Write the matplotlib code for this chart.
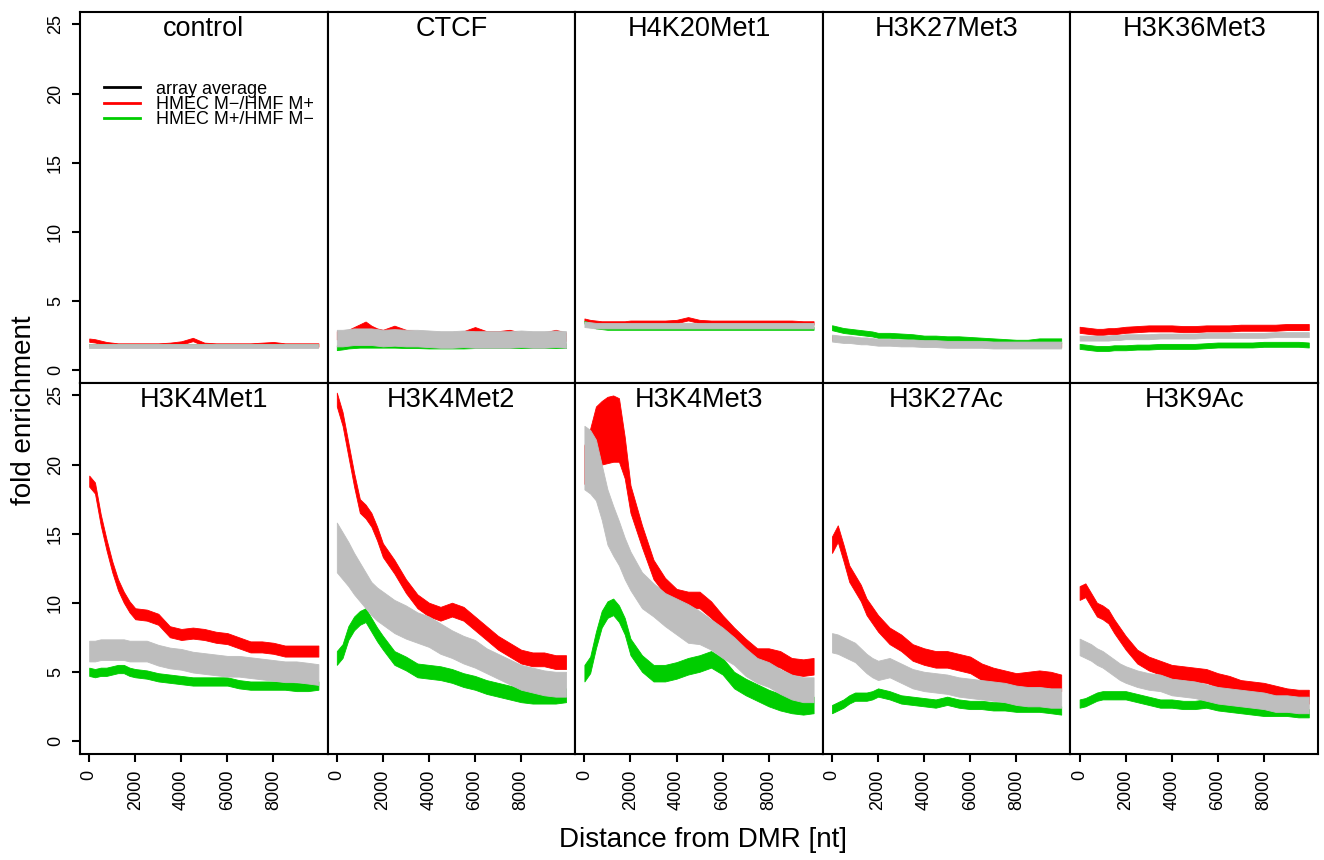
import numpy as np
import matplotlib
matplotlib.use('Agg')
import matplotlib.pyplot as plt

plt.rcParams['font.family'] = ['Liberation Sans', 'DejaVu Sans']
plt.rcParams['xtick.labelsize'] = 13
plt.rcParams['ytick.labelsize'] = 13
plt.rcParams['xtick.major.size'] = 6
plt.rcParams['ytick.major.size'] = 6
plt.rcParams['xtick.major.width'] = 1.5
plt.rcParams['ytick.major.width'] = 1.5
plt.rcParams['xtick.major.pad'] = 5.5
plt.rcParams['ytick.major.pad'] = 5.5

dist = [0, 250, 500, 750, 1000, 1250, 1500, 1750, 2000, 2500, 3000, 3500, 4000,
        4500, 5000, 5500, 6000, 6500, 7000, 7500, 8000, 8500, 9000, 9500, 9950]

panels = ['control', 'CTCF', 'H4K20Met1', 'H3K27Met3', 'H3K36Met3',
          'H3K4Met1', 'H3K4Met2', 'H3K4Met3', 'H3K27Ac', 'H3K9Ac']

# HMEC M-/HMF M+ (red)
red = [
    [2.15, 2.1, 2.0, 1.9, 1.85, 1.8, 1.8, 1.8, 1.8, 1.8, 1.8, 1.85, 1.95, 2.2, 1.85, 1.8, 1.8, 1.8, 1.8, 1.85, 1.9, 1.8, 1.8, 1.8, 1.8],
    [2.5, 2.5, 2.6, 2.8, 3.0, 3.2, 2.9, 2.7, 2.6, 2.9, 2.6, 2.5, 2.4, 2.3, 2.3, 2.5, 2.8, 2.5, 2.5, 2.6, 2.4, 2.4, 2.4, 2.6, 2.4],
    [3.6, 3.5, 3.45, 3.4, 3.4, 3.4, 3.4, 3.4, 3.45, 3.45, 3.45, 3.45, 3.5, 3.7, 3.5, 3.45, 3.45, 3.45, 3.45, 3.45, 3.45, 3.45, 3.45, 3.4, 3.4],
    [2.3, 2.25, 2.2, 2.2, 2.15, 2.1, 2.1, 2.05, 2.0, 2.0, 1.95, 1.95, 1.9, 1.9, 1.85, 1.85, 1.85, 1.85, 1.8, 1.8, 1.8, 1.8, 1.8, 1.8, 1.8],
    [2.9, 2.85, 2.8, 2.75, 2.75, 2.8, 2.8, 2.85, 2.9, 2.95, 3.0, 3.0, 3.0, 2.95, 2.95, 3.0, 3.0, 3.0, 3.05, 3.05, 3.05, 3.05, 3.1, 3.1, 3.1],
    [18.8, 18.3, 16.0, 14.2, 12.6, 11.3, 10.4, 9.7, 9.2, 9.1, 8.8, 7.9, 7.7, 7.8, 7.7, 7.5, 7.4, 7.1, 6.8, 6.8, 6.7, 6.5, 6.5, 6.5, 6.5],
    [24.7, 23.3, 21.1, 18.9, 17.0, 16.6, 16.0, 15.0, 13.8, 12.6, 11.2, 10.1, 9.5, 9.2, 9.5, 9.2, 8.5, 7.8, 7.1, 6.6, 6.1, 5.9, 5.9, 5.7, 5.7],
    [20.0, 20.8, 22.0, 22.3, 22.5, 22.6, 22.5, 20.5, 17.5, 14.8, 12.4, 11.2, 10.4, 10.2, 10.2, 9.5, 8.5, 7.6, 6.8, 6.1, 6.1, 5.9, 5.4, 5.3, 5.4],
    [14.2, 15.0, 13.6, 12.1, 11.4, 10.7, 9.7, 9.1, 8.5, 7.6, 7.1, 6.4, 6.1, 5.9, 5.9, 5.7, 5.5, 5.0, 4.7, 4.5, 4.3, 4.4, 4.5, 4.4, 4.2],
    [10.7, 10.9, 10.2, 9.5, 9.3, 9.0, 8.3, 7.7, 7.1, 6.1, 5.6, 5.3, 5.0, 4.9, 4.8, 4.7, 4.4, 4.2, 3.9, 3.8, 3.7, 3.5, 3.3, 3.2, 3.2],
]

# HMEC M+/HMF M- (green)
green = [
    [1.8, 1.8, 1.8, 1.8, 1.8, 1.8, 1.8, 1.8, 1.8, 1.8, 1.8, 1.8, 1.8, 1.8, 1.8, 1.8, 1.8, 1.8, 1.8, 1.8, 1.8, 1.8, 1.8, 1.8, 1.8],
    [1.6, 1.65, 1.72, 1.75, 1.78, 1.78, 1.78, 1.78, 1.78, 1.78, 1.75, 1.75, 1.72, 1.72, 1.72, 1.72, 1.75, 1.75, 1.75, 1.75, 1.75, 1.75, 1.75, 1.75, 1.75],
    [3.45, 3.3, 3.1, 3.05, 3.0, 3.0, 3.0, 3.0, 3.0, 3.0, 3.0, 3.0, 3.0, 3.0, 3.0, 3.0, 3.0, 3.0, 3.0, 3.0, 3.0, 3.0, 3.0, 3.0, 3.0],
    [3.05, 2.95, 2.85, 2.8, 2.75, 2.7, 2.65, 2.6, 2.5, 2.5, 2.45, 2.4, 2.3, 2.3, 2.25, 2.25, 2.2, 2.15, 2.1, 2.05, 2.0, 2.0, 2.1, 2.1, 2.1],
    [1.7, 1.65, 1.6, 1.55, 1.55, 1.55, 1.6, 1.6, 1.6, 1.65, 1.65, 1.7, 1.7, 1.7, 1.7, 1.75, 1.8, 1.8, 1.8, 1.8, 1.85, 1.85, 1.85, 1.85, 1.8],
    [5.0, 4.9, 5.0, 5.0, 5.1, 5.2, 5.2, 5.0, 4.9, 4.8, 4.6, 4.5, 4.4, 4.3, 4.3, 4.3, 4.3, 4.1, 4.0, 4.0, 4.0, 4.0, 3.9, 3.9, 4.0],
    [6.0, 6.5, 7.8, 8.5, 8.9, 9.1, 8.4, 7.7, 7.1, 6.0, 5.6, 5.1, 5.0, 4.9, 4.7, 4.4, 4.2, 3.9, 3.7, 3.5, 3.3, 3.2, 3.2, 3.2, 3.3],
    [4.9, 5.5, 7.3, 8.8, 9.5, 9.7, 9.2, 8.3, 6.8, 5.6, 4.9, 4.9, 5.1, 5.4, 5.6, 5.9, 5.4, 4.4, 3.9, 3.5, 3.1, 2.8, 2.6, 2.5, 2.6],
    [2.3, 2.5, 2.7, 3.0, 3.2, 3.2, 3.2, 3.3, 3.5, 3.3, 3.0, 2.9, 2.8, 2.7, 2.9, 2.7, 2.6, 2.6, 2.5, 2.5, 2.4, 2.4, 2.4, 2.3, 2.2],
    [2.7, 2.8, 3.0, 3.2, 3.3, 3.3, 3.3, 3.3, 3.3, 3.1, 2.9, 2.7, 2.7, 2.6, 2.6, 2.7, 2.5, 2.4, 2.3, 2.2, 2.1, 2.1, 2.1, 2.0, 2.0],
]

# array average (grey)
grey = [
    [1.72, 1.72, 1.72, 1.72, 1.72, 1.72, 1.72, 1.72, 1.72, 1.72, 1.72, 1.72, 1.72, 1.72, 1.72, 1.72, 1.72, 1.72, 1.72, 1.72, 1.72, 1.72, 1.72, 1.72, 1.72],
    [2.3, 2.3, 2.35, 2.4, 2.4, 2.4, 2.4, 2.35, 2.3, 2.35, 2.3, 2.3, 2.25, 2.2, 2.2, 2.25, 2.2, 2.2, 2.2, 2.2, 2.25, 2.2, 2.2, 2.25, 2.2],
    [3.3, 3.25, 3.2, 3.2, 3.2, 3.2, 3.2, 3.2, 3.2, 3.2, 3.2, 3.2, 3.2, 3.2, 3.2, 3.2, 3.2, 3.2, 3.2, 3.2, 3.2, 3.2, 3.2, 3.2, 3.2],
    [2.3, 2.25, 2.2, 2.2, 2.15, 2.1, 2.1, 2.05, 2.0, 2.0, 1.95, 1.95, 1.9, 1.9, 1.85, 1.85, 1.85, 1.85, 1.8, 1.8, 1.8, 1.8, 1.8, 1.8, 1.8],
    [2.3, 2.3, 2.3, 2.3, 2.3, 2.3, 2.35, 2.35, 2.4, 2.4, 2.4, 2.45, 2.45, 2.45, 2.45, 2.5, 2.5, 2.5, 2.5, 2.5, 2.5, 2.55, 2.55, 2.55, 2.55],
    [6.5, 6.5, 6.6, 6.6, 6.6, 6.6, 6.6, 6.5, 6.5, 6.5, 6.2, 6.0, 5.9, 5.7, 5.6, 5.5, 5.4, 5.4, 5.3, 5.2, 5.1, 5.0, 5.0, 4.9, 4.8],
    [14.0, 13.4, 12.8, 12.1, 11.5, 10.9, 10.3, 9.9, 9.6, 9.0, 8.6, 8.2, 7.9, 7.4, 7.0, 6.6, 6.3, 5.8, 5.4, 5.0, 4.6, 4.4, 4.2, 4.1, 4.1],
    [20.5, 20.2, 19.6, 18.0, 16.2, 15.2, 14.3, 13.2, 12.3, 10.9, 10.2, 9.5, 9.0, 8.5, 8.2, 7.7, 7.1, 6.5, 5.7, 5.1, 4.8, 4.3, 3.9, 3.7, 3.7],
    [7.1, 7.0, 6.8, 6.6, 6.4, 6.0, 5.6, 5.3, 5.1, 5.3, 4.9, 4.5, 4.3, 4.2, 4.1, 3.9, 3.8, 3.7, 3.6, 3.5, 3.3, 3.2, 3.2, 3.1, 3.1],
    [6.8, 6.6, 6.4, 6.1, 5.9, 5.6, 5.3, 5.0, 4.8, 4.5, 4.3, 4.2, 3.9, 3.8, 3.7, 3.5, 3.3, 3.2, 3.1, 3.0, 2.9, 2.7, 2.7, 2.6, 2.6],
]

# spread (half height) of each noisy trace
red_spread = [0.12, 0.3, 0.12, 0.15, 0.22, 0.4, 0.5,
              [1.4, 1.8, 2.2, 2.3, 2.4, 2.4, 2.3, 1.5, 1.0, 0.8, 0.7, 0.6, 0.6, 0.6, 0.6, 0.6, 0.6, 0.6, 0.6, 0.6, 0.6, 0.6, 0.6, 0.6, 0.6],
              0.6, 0.5]
green_spread = [0.08, 0.17, 0.1, 0.18, 0.18, 0.3, 0.5, 0.6, 0.3, 0.3]
grey_spread = [0.12, 0.6, 0.2, 0.25, 0.18, 0.75,
               [1.8, 1.7, 1.6, 1.5, 1.4, 1.3, 1.2, 1.2, 1.2, 1.2, 1.2, 1.1, 1.1, 1.1, 1.0, 1.0, 1.0, 0.9, 0.9, 0.9, 0.9, 0.9, 0.9, 0.9, 0.9],
               [2.3, 2.3, 2.2, 2.0, 2.0, 1.8, 1.6, 1.5, 1.4, 1.3, 1.2, 1.2, 1.3, 1.4, 1.2, 1.1, 1.1, 1.0, 1.0, 0.9, 0.9, 0.9, 0.9, 0.9, 0.9],
               0.7, 0.6]

RED = '#ff0000'
GREEN = '#00cd00'
GREY = '#bebebe'

fig, axes = plt.subplots(2, 5, figsize=(13.24, 8.6), dpi=100, sharex=True, sharey=True)
fig.subplots_adjust(left=80/1324, right=1318/1324, top=1-12/860, bottom=1-754/860,
                    wspace=0, hspace=0)

x = np.array(dist)
for i, ax in enumerate(axes.flat):
    for vals, spread, col in [(red[i], red_spread[i], RED),
                              (green[i], green_spread[i], GREEN),
                              (grey[i], grey_spread[i], GREY)]:
        v = np.array(vals)
        s = np.array(spread)
        ax.fill_between(x, v - s, v + s, color=col, lw=0.6, edgecolor=col)
    ax.text(0.5, 0.988, panels[i], transform=ax.transAxes, ha='center', va='top',
            fontsize=19.5)
    for sp in ax.spines.values():
        sp.set_linewidth(1.5)

ax0 = axes[0, 0]
ax0.set_xlim(-400, 10350)
ax0.set_ylim(-0.95, 25.9)
ax0.set_xticks([0, 2000, 4000, 6000, 8000])
ax0.set_yticks([0, 5, 10, 15, 20, 25])

for ax in axes.flat:
    if ax not in axes[:, 0]:
        ax.tick_params(axis='y', left=False, labelleft=False)
    if ax not in axes[1, :]:
        ax.tick_params(axis='x', bottom=False, labelbottom=False)
for ax in axes[:, 0]:
    plt.setp(ax.get_yticklabels(), rotation=90, va='center')
for ax in axes[1, :]:
    plt.setp(ax.get_xticklabels(), rotation=90)

# legend in the first panel
h1, = ax0.plot([], [], color='black', lw=2)
h2, = ax0.plot([], [], color=RED, lw=2)
h3, = ax0.plot([], [], color=GREEN, lw=2)
ax0.legend([h1, h2, h3], ['array average', 'HMEC M\u2212/HMF M+', 'HMEC M+/HMF M\u2212'],
           loc='upper left', bbox_to_anchor=(0.095, 0.815), frameon=False,
           fontsize=13, handlelength=2.0, handletextpad=0.9, labelspacing=-0.1,
           borderpad=0, borderaxespad=0)

fig.text(0.018, 0.523, 'fold enrichment', rotation=90, ha='center', va='center', fontsize=20)
fig.text(0.531, 0.023, 'Distance from DMR [nt]', ha='center', va='center', fontsize=20)

plt.savefig('out.png')
